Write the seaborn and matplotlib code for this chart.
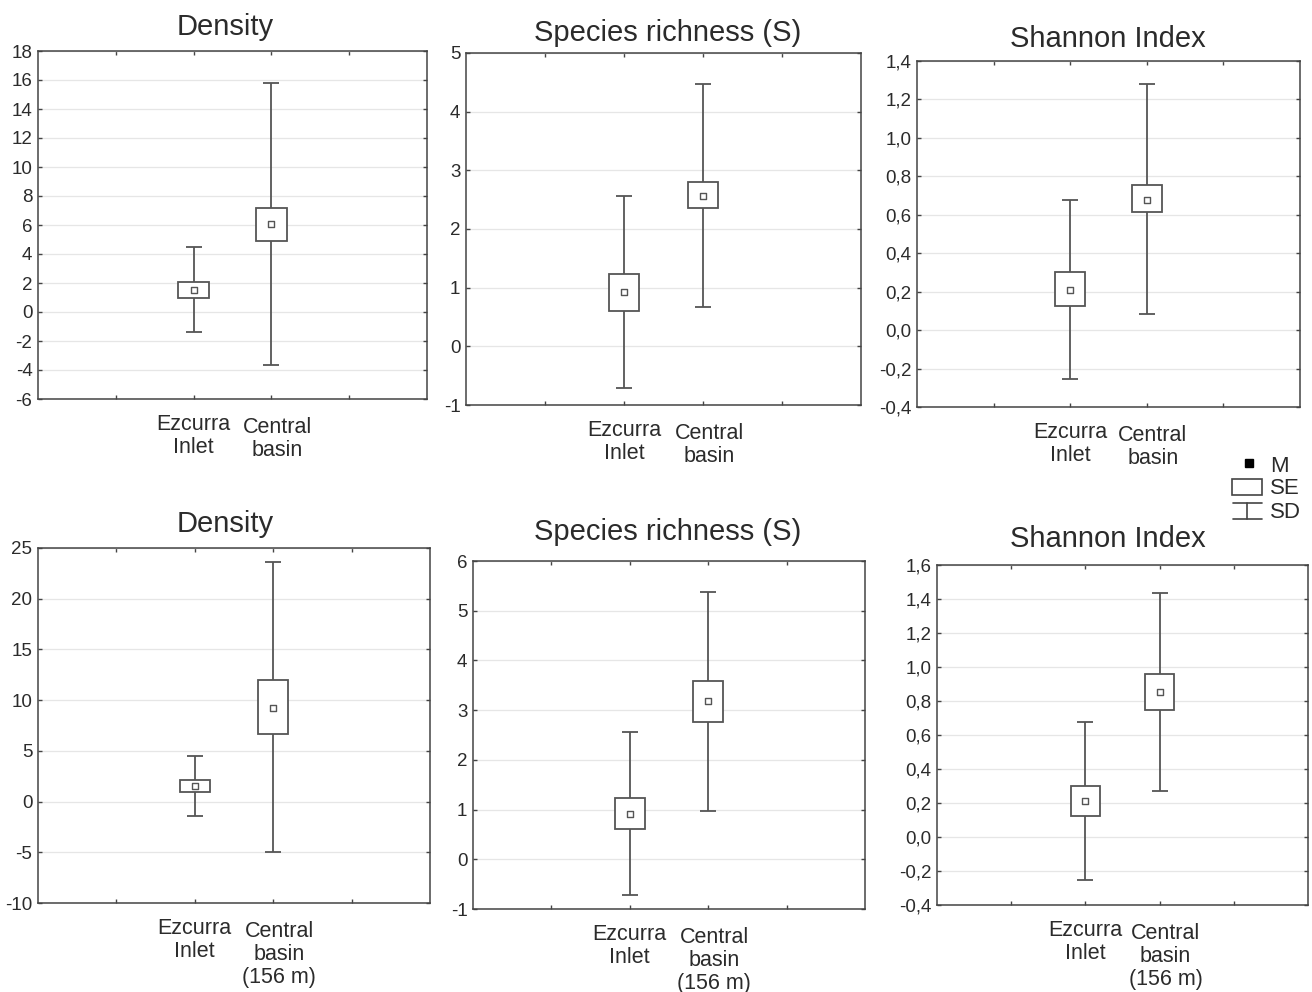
import numpy as np
import pandas as pd
import matplotlib
matplotlib.use("Agg")
import matplotlib.pyplot as plt
from matplotlib.patches import Rectangle
from matplotlib.ticker import FixedLocator, FuncFormatter
from matplotlib.transforms import ScaledTranslation
import seaborn as sns

sns.set_theme(style="white")
plt.rcParams["font.family"] = ["Liberation Sans", "DejaVu Sans"]

# ---------------- data ----------------
groups_top = ["Ezcurra\nInlet", "Central\nbasin"]
groups_bottom = ["Ezcurra\nInlet", "Central\nbasin\n(156 m)"]
titles = ["Density", "Species richness (S)", "Shannon Index",
          "Density", "Species richness (S)", "Shannon Index"]

# top row
dens1_mean = [1.53, 6.07]
dens1_se_lo = [1.00, 4.93]
dens1_se_hi = [2.10, 7.20]
dens1_sd_lo = [-1.40, -3.67]
dens1_sd_hi = [4.51, 15.78]

rich1_mean = [0.92, 2.57]
rich1_se_lo = [0.61, 2.35]
rich1_se_hi = [1.23, 2.80]
rich1_sd_lo = [-0.71, 0.67]
rich1_sd_hi = [2.56, 4.48]

shan1_mean = [0.211, 0.678]
shan1_se_lo = [0.124, 0.612]
shan1_se_hi = [0.301, 0.753]
shan1_sd_lo = [-0.252, 0.083]
shan1_sd_hi = [0.676, 1.280]

# bottom row
dens2_mean = [1.57, 9.26]
dens2_se_lo = [0.94, 6.66]
dens2_se_hi = [2.13, 11.95]
dens2_sd_lo = [-1.39, -4.94]
dens2_sd_hi = [4.53, 23.62]

rich2_mean = [0.92, 3.18]
rich2_se_lo = [0.61, 2.77]
rich2_se_hi = [1.24, 3.58]
rich2_sd_lo = [-0.71, 0.98]
rich2_sd_hi = [2.57, 5.37]

shan2_mean = [0.212, 0.853]
shan2_se_lo = [0.124, 0.745]
shan2_se_hi = [0.302, 0.961]
shan2_sd_lo = [-0.253, 0.270]
shan2_sd_hi = [0.678, 1.433]

yticks_list = [
    np.arange(-6, 18.1, 2),
    np.arange(-1, 5.1, 1),
    np.round(np.arange(-0.4, 1.41, 0.2), 1),
    np.arange(-10, 25.1, 5),
    np.arange(-1, 6.1, 1),
    np.round(np.arange(-0.4, 1.61, 0.2), 1),
]

legend_labels = ["M", "SE", "SD"]

# ---------------- layout (pixels) ----------------
W, H = 1312, 992
boxes_px = [  # x0, x1, y_top, y_bottom
    (38, 427, 51, 399),
    (466, 861, 53, 405),
    (917, 1300, 61, 407),
    (38, 430, 548, 903),
    (473, 865, 561, 909),
    (937, 1308, 565, 905),
]
title_px = [(225, 27), (668, 33), (1108, 39), (225, 524), (668, 532), (1108, 539)]

LINE = "#555555"
SPINE = "#444444"
TEXT = "#2b2b2b"

fig = plt.figure(figsize=(W / 100, H / 100), dpi=100)
fig.patch.set_facecolor("white")

panels = [
    (dens1_mean, dens1_se_lo, dens1_se_hi, dens1_sd_lo, dens1_sd_hi, groups_top, False),
    (rich1_mean, rich1_se_lo, rich1_se_hi, rich1_sd_lo, rich1_sd_hi, groups_top, False),
    (shan1_mean, shan1_se_lo, shan1_se_hi, shan1_sd_lo, shan1_sd_hi, groups_top, True),
    (dens2_mean, dens2_se_lo, dens2_se_hi, dens2_sd_lo, dens2_sd_hi, groups_bottom, False),
    (rich2_mean, rich2_se_lo, rich2_se_hi, rich2_sd_lo, rich2_sd_hi, groups_bottom, False),
    (shan2_mean, shan2_se_lo, shan2_se_hi, shan2_sd_lo, shan2_sd_hi, groups_bottom, True),
]

for i, (mean, se_lo, se_hi, sd_lo, sd_hi, groups, comma) in enumerate(panels):
    x0, x1, yt, yb = boxes_px[i]
    ax = fig.add_axes([x0 / W, 1 - yb / H, (x1 - x0) / W, (yb - yt) / H])
    df = pd.DataFrame({
        "pos": [0, 1], "group": groups, "mean": mean,
        "se_lo": se_lo, "se_hi": se_hi, "sd_lo": sd_lo, "sd_hi": sd_hi,
    })
    mean_a = df["mean"].to_numpy()
    ax.errorbar(df["pos"], mean_a,
                yerr=[mean_a - df["sd_lo"].to_numpy(), df["sd_hi"].to_numpy() - mean_a],
                fmt="none", ecolor=LINE, elinewidth=1.3, capsize=5.8, capthick=1.3,
                zorder=2)
    ax.bar(df["pos"], df["se_hi"] - df["se_lo"], bottom=df["se_lo"], width=0.39,
           facecolor="white", edgecolor=LINE, linewidth=1.3, zorder=3)
    sns.scatterplot(data=df, x="pos", y="mean", marker="s", s=16, color="white",
                    edgecolor=LINE, linewidth=1.0, ax=ax, zorder=4, legend=False)

    yt_vals = yticks_list[i]
    ax.set_ylim(yt_vals[0], yt_vals[-1])
    ax.set_xlim(-2, 3)
    ax.yaxis.set_major_locator(FixedLocator(yt_vals))
    if comma:
        ax.yaxis.set_major_formatter(FuncFormatter(lambda v, p: f"{v:.1f}".replace(".", ",")))
    else:
        ax.yaxis.set_major_formatter(FuncFormatter(lambda v, p: f"{v:.0f}"))
    ax.set_xticks([-1, 0, 1, 2])
    ax.set_xticklabels(["", groups[0], groups[1], ""])
    ax.set_xlabel("")
    ax.set_ylabel("")
    ax.yaxis.grid(True, color="#e6e6e6", linewidth=0.9)
    ax.xaxis.grid(False)
    ax.set_axisbelow(True)
    for sp in ax.spines.values():
        sp.set_visible(True)
        sp.set_color(SPINE)
        sp.set_linewidth(1.1)
    ax.tick_params(axis="both", direction="in", length=3, width=1, color=SPINE,
                   top=True, right=True, left=True, bottom=True)
    ax.tick_params(axis="y", labelsize=13.5, pad=4, labelcolor=TEXT)
    ax.tick_params(axis="x", labelsize=15.5, pad=11, labelcolor=TEXT)
    xlabels = ax.get_xticklabels()
    for lbl in xlabels:
        lbl.set_linespacing(1.12)
    # the "Central basin" label sits a little to the right and lower in the original
    xlabels[2].set_transform(xlabels[2].get_transform()
                             + ScaledTranslation(6 / 100, -3 / 100, fig.dpi_scale_trans))
    tx, ty = title_px[i]
    fig.text(tx / W, 1 - ty / H, titles[i], ha="center", va="center",
             fontsize=21, color=TEXT)

# ---------------- legend (M / SE / SD) ----------------
ov = fig.add_axes([0, 0, 1, 1], zorder=10)
ov.set_xlim(0, W)
ov.set_ylim(H, 0)
ov.axis("off")
ov.plot([1248.5], [463], marker="s", markersize=6, color="black", linestyle="none")
ov.add_patch(Rectangle((1232, 479), 30, 16, fill=False, edgecolor=SPINE, linewidth=1.2))
ov.plot([1233, 1262], [503, 503], color=SPINE, lw=1.2)
ov.plot([1233, 1262], [519, 519], color=SPINE, lw=1.2)
ov.plot([1247, 1247], [503, 519], color=SPINE, lw=1.2)
for label, y in zip(legend_labels, [466, 488, 512]):
    ov.text(1270, y, label, ha="left", va="center", fontsize=16, color=TEXT)

fig.savefig("out.png", dpi=100, facecolor="white")
